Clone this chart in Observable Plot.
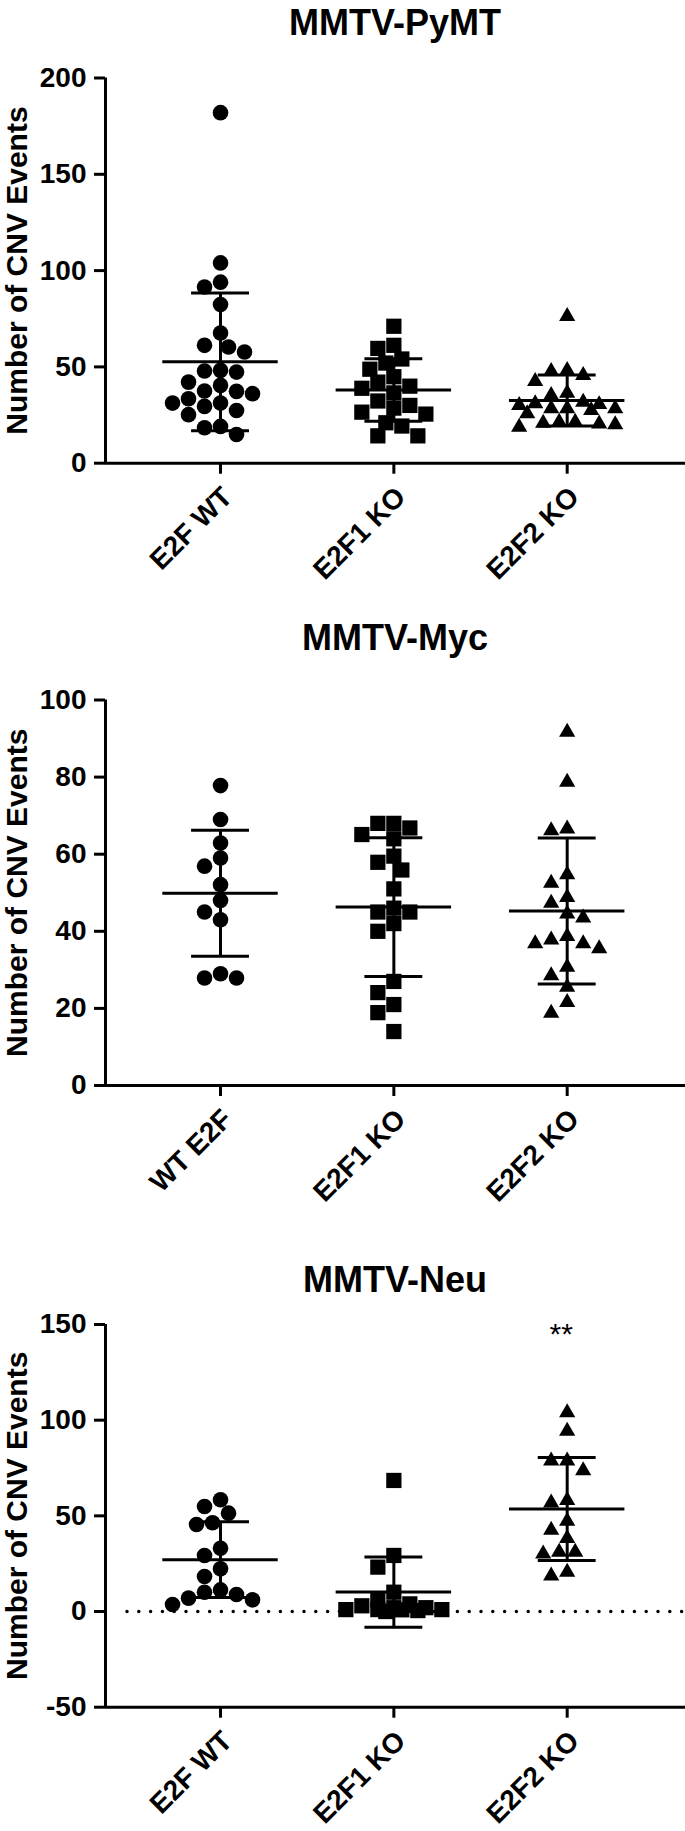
<!DOCTYPE html>
<html>
<head>
<meta charset="utf-8">
<script src="https://cdn.jsdelivr.net/npm/d3@7"></script>
<script src="https://cdn.jsdelivr.net/npm/@observablehq/plot@0.6"></script>
<style>
  body { margin: 0; background: #fff; }
  #root { position: relative; width: 685px; height: 1831px; overflow: hidden; background: #fff;
          font-family: "Liberation Sans", Arial, Helvetica, sans-serif; }
  .title { position: absolute; left: 105px; width: 580px; text-align: center; font-size: 36px;
           font-weight: bold; line-height: 36px; color: #000; white-space: nowrap; }
  .panel { position: absolute; left: 0; }
  .panel svg { font-family: "Liberation Sans", Arial, Helvetica, sans-serif; font-weight: bold; color: #000; }
  .panel svg g[aria-label="y-axis tick"] path,
  .panel svg g[aria-label="x-axis tick"] path,
  .panel svg g[aria-label="y-axis"] .tick line,
  .panel svg g[aria-label="x-axis"] .tick line { stroke-width: 3px; stroke: #000; }
</style>
</head>
<body>
<div id="root"></div>
<script>
// ---------- data ----------
const symbols = ["circle", "square", "triangle"];
const yLabel = "Number of CNV Events";

const titlePyMT = "MMTV-PyMT";
const groupsPyMT = ["E2F WT", "E2F1 KO", "E2F2 KO"];
const ticksPyMT = [0, 50, 100, 150, 200];
const pymtWT = [182, 104, 94, 91.5, 82.4, 67.6, 61.2, 60.3, 57.7, 47.3, 47.9, 48.2, 42.1, 37.3, 37.5, 40.4, 36.1, 31.2, 33.5, 29.5, 31.2, 25.2, 27.4, 19.1, 18.4, 14.9];
const pymtE2F1 = [71.1, 59.6, 61.2, 54.1, 52.0, 44.9, 48.8, 42.1, 40.0, 36.5, 28.6, 21.0, 26.5, 19.3, 38.9, 30.0, 32.3, 25.5, 14.2, 14.2];
const pymtE2F2 = [76.3, 48.2, 47.7, 45.6, 42.5, 35.2, 36.4, 27.4, 30.9, 28.3, 30.5, 25.7, 28.3, 31.7, 30.0, 28.3, 20.8, 21.3, 18.7, 21.3, 20.1, 20.5];

const titleMyc = "MMTV-Myc";
const groupsMyc = ["WT E2F", "E2F1 KO", "E2F2 KO"];
const ticksMyc = [0, 20, 40, 60, 80, 100];
const mycWT = [77.8, 69.0, 62.9, 59.0, 56.9, 52.1, 48.0, 45.0, 43.0, 27.9, 29.0, 27.9];
const mycE2F1 = [66.8, 65.1, 68.0, 64.0, 59.5, 68.0, 57.9, 55.9, 51.0, 46.0, 45.0, 45.0, 42.0, 40.0, 27.0, 24.1, 21.0, 18.9, 14.0];
const mycE2F2 = [91.7, 78.7, 66.1, 66.6, 54.7, 52.5, 48.8, 47.3, 44.5, 43.5, 36.8, 38.7, 35.5, 36.8, 37.8, 30.7, 28.5, 25.5, 21.6, 18.8];

const titleNeu = "MMTV-Neu";
const groupsNeu = ["E2F WT", "E2F1 KO", "E2F2 KO"];
const ticksNeu = [-50, 0, 50, 100, 150];
const neuWT = [58.4, 51.4, 54.9, 45.5, 46.4, 33.1, 29.3, 22.3, 18.3, 11.3, 10.1, 8.9, 7.0, 6.1, 3.7];
const neuE2F1 = [68.5, 29.3, 23.2, 10.1, 6, 4, 3, 2, 1, 1, 0.5, 2, 1, 0, 0.9];
const neuE2F2 = [104.0, 94.3, 78.7, 78.7, 73.6, 56.8, 58.1, 47.3, 42.5, 38.3, 31.1, 31.1, 30.1, 18.7, 20.6];
const neuNotes = [{group: 2, label: "**", value: 145}];

// ---------- layout helpers ----------
// column-scatter spreading (GraphPad-like): greedy placement near the centre
function swarm(vals, k, D = 15, h = 8, maxOff = 56) {
  const order = d3.range(vals.length).sort((a, b) => d3.descending(vals[a], vals[b]));
  const cands = [0];
  for (let j = 1; j * h <= maxOff; j++) cands.push(-j * h, j * h);
  const placed = [], off = new Array(vals.length);
  for (const i of order) {
    const py = vals[i] * k;
    let best = 0, bestScore = -Infinity;
    for (const c of cands) {
      let minD = Infinity;
      for (const p of placed) { const d = Math.hypot(c - p.x, py - p.y); if (d < minD) minD = d; }
      if (minD >= D) { best = c; break; }
      if (minD > bestScore) { bestScore = minD; best = c; }
    }
    placed.push({x: best, y: py});
    off[i] = best;
  }
  return off;
}

const symbolR = {circle: 7.8, square: 8.6, triangle: 6};
const FONT = '"Liberation Sans", Arial, Helvetica, sans-serif';

function makePanel({groups, values, yDomain, yTicks, height, marginTop, marginBottom, zeroLine, notes}) {
  const width = 685, marginLeft = 105, marginRight = 0;
  const xDomain = [-0.6636, 2.6826];
  const step = (width - marginLeft - marginRight) / (xDomain[1] - xDomain[0]);
  const k = (height - marginTop - marginBottom) / (yDomain[1] - yDomain[0]);
  const points = [], stats = [];
  groups.forEach((g, gi) => {
    const vals = values[gi];
    const off = swarm(vals, k);
    vals.forEach((v, j) => points.push({gi, v, x: gi + off[j] / step}));
    const m = d3.mean(vals), s = d3.deviation(vals);
    stats.push({gi, m, lo: m - s, hi: m + s});
  });
  const marks = [
    Plot.ruleX([xDomain[0]], {strokeWidth: 3}),
    Plot.ruleY([yDomain[0]], {strokeWidth: 3})
  ];
  if (zeroLine) marks.push(Plot.ruleY([0], {strokeWidth: 3.5, strokeDasharray: "0 11.8", strokeLinecap: "round", insetLeft: 22}));
  symbols.forEach((sym, gi) => {
    marks.push(Plot.dot(points.filter(p => p.gi === gi), {x: "x", y: "v", symbol: sym, r: symbolR[sym], fill: "black", stroke: "none"}));
  });
  marks.push(
    Plot.ruleY(stats, {x1: d => d.gi - 0.333, x2: d => d.gi + 0.333, y: "m", strokeWidth: 3}),
    Plot.ruleY(stats, {x1: d => d.gi - 0.167, x2: d => d.gi + 0.167, y: "hi", strokeWidth: 3}),
    Plot.ruleY(stats, {x1: d => d.gi - 0.167, x2: d => d.gi + 0.167, y: "lo", strokeWidth: 3}),
    Plot.ruleX(stats, {x: "gi", y1: "lo", y2: "hi", strokeWidth: 3}),
    // y tick labels
    Plot.text(yTicks, {y: d => d, text: d => String(d), frameAnchor: "left", textAnchor: "end", lineAnchor: "middle",
                       dx: -19, fontSize: 28, fontWeight: "bold", fill: "black"}),
    // x category labels (rotated)
    Plot.text(groups, {x: (d, i) => i, y: () => yDomain[0], text: d => d, rotate: -45, textAnchor: "end",
                       dx: 7, dy: 29, fontSize: 28, fontWeight: "bold", fill: "black"}),
    // y axis title
    Plot.text([yLabel], {frameAnchor: "left", textAnchor: "middle", lineAnchor: "middle", rotate: -90, dx: -88,
                         fontSize: 30, fontWeight: "bold", fill: "black"})
  );
  if (notes) marks.push(Plot.text(notes, {x: "group", y: "value", text: "label", dx: -6, fontSize: 30, fontWeight: "normal", fill: "black"}));
  return Plot.plot({
    width, height, marginLeft, marginRight, marginTop, marginBottom,
    x: {domain: xDomain, ticks: [0, 1, 2], tickFormat: () => "", tickSize: 11, label: null},
    y: {domain: yDomain, ticks: yTicks, tickFormat: () => "", tickSize: 11, label: null},
    style: `font-family: ${FONT}; font-weight: bold; color: black; background: white; overflow: visible;`,
    marks
  });
}

const root = document.getElementById("root");
function addTitle(text, top) {
  const d = document.createElement("div");
  d.className = "title"; d.style.top = top + "px"; d.textContent = text;
  root.appendChild(d);
}
function addPanel(svg, top) {
  const d = document.createElement("div");
  d.className = "panel"; d.style.top = top + "px";
  d.appendChild(svg);
  root.appendChild(d);
}

addTitle(titlePyMT, 5);
addPanel(makePanel({groups: groupsPyMT, values: [pymtWT, pymtE2F1, pymtE2F2], yDomain: [0, 200], yTicks: ticksPyMT,
                    height: 530, marginTop: 27.5, marginBottom: 117.3}), 50);
addTitle(titleMyc, 620);
addPanel(makePanel({groups: groupsMyc, values: [mycWT, mycE2F1, mycE2F2], yDomain: [0, 100], yTicks: ticksMyc,
                    height: 560, marginTop: 29.5, marginBottom: 145}), 670);
addTitle(titleNeu, 1262);
addPanel(makePanel({groups: groupsNeu, values: [neuWT, neuE2F1, neuE2F2], yDomain: [-50, 150], yTicks: ticksNeu,
                    height: 531, marginTop: 24, marginBottom: 124.3, zeroLine: true, notes: neuNotes}), 1300);
</script>
</body>
</html>
